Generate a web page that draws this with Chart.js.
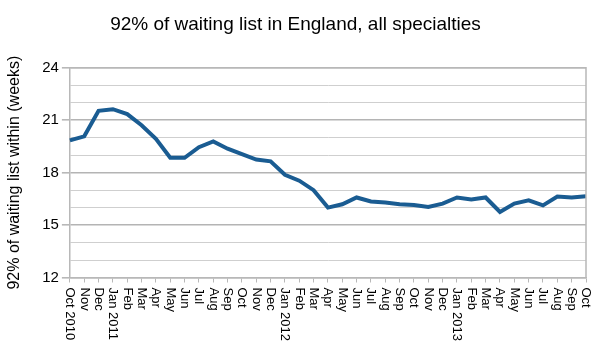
<!DOCTYPE html>
<html>
<head>
<meta charset="utf-8">
<script src="https://cdn.jsdelivr.net/npm/chart.js@4/dist/chart.umd.min.js"></script>
<style>
  html, body { margin: 0; padding: 0; background: #fff; }
  #wrap { width: 596px; height: 352px; }
</style>
</head>
<body>
<div id="wrap"><canvas id="waiting"></canvas></div>
<script>
const months = ["Oct 2010", "Nov", "Dec", "Jan 2011", "Feb", "Mar", "Apr", "May", "Jun", "Jul", "Aug", "Sep",
  "Oct", "Nov", "Dec", "Jan 2012", "Feb", "Mar", "Apr", "May", "Jun", "Jul", "Aug", "Sep",
  "Oct", "Nov", "Dec", "Jan 2013", "Feb", "Mar", "Apr", "May", "Jun", "Jul", "Aug", "Sep", "Oct"];
const weeks92 = [19.85, 20.08, 21.54, 21.63, 21.35, 20.71, 19.94, 18.85, 18.85, 19.46, 19.79, 19.37,
  19.06, 18.75, 18.65, 17.88, 17.54, 17.0, 16.0, 16.19, 16.58, 16.35, 16.29, 16.19,
  16.15, 16.04, 16.23, 16.58, 16.46, 16.58, 15.75, 16.23, 16.42, 16.13, 16.63, 16.58, 16.65];
const yTicks = [12, 13, 14, 15, 16, 17, 18, 19, 20, 21, 22, 23, 24];
const yMajor = 3;

const font = "'Liberation Sans', Arial, sans-serif";
const isMajor = (c) => c.tick && c.tick.value % yMajor === 0;

// draws the x labels reading downwards and the plot frame
const downLabels = {
  id: "downLabels",
  afterDraw(chart) {
    const ctx = chart.ctx;
    const x = chart.scales.x;
    const area = chart.chartArea;
    ctx.save();
    ctx.strokeStyle = "#b8b8b8";
    ctx.lineWidth = 1.5;
    ctx.beginPath();
    ctx.moveTo(area.left, area.top);
    ctx.lineTo(area.right, area.top);
    ctx.lineTo(area.right, area.bottom);
    ctx.stroke();
    ctx.fillStyle = "#000";
    ctx.font = "13px " + font;
    ctx.textAlign = "left";
    ctx.textBaseline = "middle";
    months.forEach((m, i) => {
      ctx.save();
      ctx.translate(x.getPixelForTick(i), area.bottom + 10);
      ctx.rotate(Math.PI / 2);
      ctx.fillText(m, 0, 0);
      ctx.restore();
    });
    ctx.restore();
  }
};

new Chart(document.getElementById("waiting"), {
  type: "line",
  data: {
    labels: months,
    datasets: [
      {
        label: "92% of waiting list",
        data: weeks92,
        borderColor: "#1a5c92",
        borderWidth: 4,
        pointRadius: 0,
        tension: 0,
      },
    ],
  },
  options: {
    responsive: true,
    maintainAspectRatio: false,
    animation: false,
    layout: { padding: { left: 5, right: 10, bottom: 10 } },
    plugins: {
      legend: { display: false },
      tooltip: { enabled: false },
      title: {
        display: true,
        text: "92% of waiting list in England, all specialties",
        color: "#000",
        font: { family: font, size: 19, weight: "normal" },
        padding: { top: 13, bottom: 32 },
      },
    },
    scales: {
      x: {
        offset: false,
        afterFit: (scale) => {
          scale.paddingLeft = 0;
          scale.paddingRight = 0;
        },
        grid: { drawOnChartArea: false, drawTicks: true, tickLength: 5, color: "#b8b8b8" },
        border: { color: "#b8b8b8", width: 1.5 },
        ticks: {
          autoSkip: false,
          minRotation: 90,
          maxRotation: 90,
          color: "rgba(0,0,0,0)",
          font: { family: font, size: 13 },
        },
      },
      y: {
        min: yTicks[0],
        max: yTicks[yTicks.length - 1],
        afterBuildTicks: (scale) => {
          scale.ticks = yTicks.map((v) => ({ value: v }));
        },
        title: {
          display: true,
          text: "92% of waiting list within (weeks)",
          color: "#000",
          font: { family: font, size: 16 },
          padding: { top: 0, bottom: 15 },
        },
        border: { color: "#b8b8b8", width: 1.5 },
        grid: {
          color: (c) => (isMajor(c) ? "#b4b4b4" : "#cfcfcf"),
          lineWidth: (c) => (isMajor(c) ? 1.6 : 1),
          tickColor: (c) => (isMajor(c) ? "#b8b8b8" : "rgba(0,0,0,0)"),
          tickLength: 8,
        },
        ticks: {
          autoSkip: false,
          color: "#000",
          font: { family: font, size: 15 },
          padding: 3,
          callback: (v) => (v % yMajor === 0 ? v : ""),
        },
      },
    },
  },
  plugins: [downLabels],
});
</script>
</body>
</html>
